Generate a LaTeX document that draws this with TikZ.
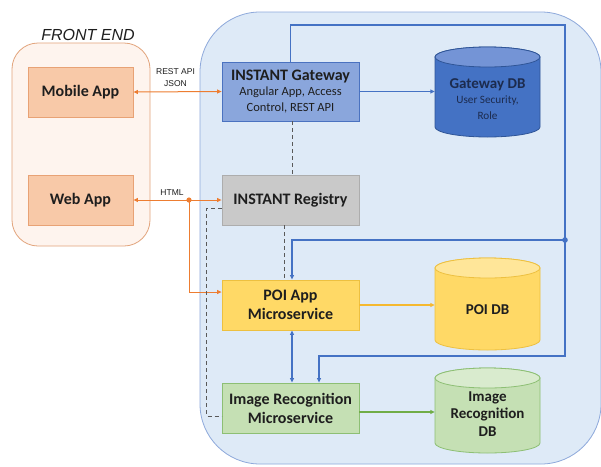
\documentclass[tikz,border=0pt]{standalone}
\usepackage{fontspec}
\setmainfont{Carlito}
\newfontfamily\arialfont{Liberation Sans}
\usetikzlibrary{arrows.meta}

\definecolor{feFill}{HTML}{FEF4EE}
\definecolor{feLine}{HTML}{E2A47C}
\definecolor{appFill}{HTML}{F8C9A8}
\definecolor{appLine}{HTML}{E8A275}
\definecolor{orangeLn}{HTML}{ED7D31}
\definecolor{beFill}{HTML}{DEEAF7}
\definecolor{beLine}{HTML}{8EA9DB}
\definecolor{gwFill}{HTML}{8AA6DC}
\definecolor{gwLine}{HTML}{4A72C0}
\definecolor{gdbFill}{HTML}{4472C4}
\definecolor{gdbTop}{HTML}{7494D6}
\definecolor{gdbLine}{HTML}{2F5597}
\definecolor{gdbText}{HTML}{1C2B4E}
\definecolor{blueLn}{HTML}{4472C4}
\definecolor{regFill}{HTML}{C9C9C9}
\definecolor{regLine}{HTML}{ADADAD}
\definecolor{poiFill}{HTML}{FFD966}
\definecolor{poiTop}{HTML}{FFE699}
\definecolor{poiLine}{HTML}{EDC040}
\definecolor{goldLn}{HTML}{F5B930}
\definecolor{imgFill}{HTML}{C5E0B4}
\definecolor{imgTop}{HTML}{D9EBCE}
\definecolor{imgLine}{HTML}{8DBF74}
\definecolor{greenLn}{HTML}{70AD47}
\definecolor{txt}{HTML}{1E1E1E}
\definecolor{dashLn}{HTML}{595959}

% database cylinder: centre x, top y, bottom y, body fill, top fill, border
\newcommand{\dbcylinder}[6]{%
  \filldraw[fill=#4,draw=#6,line width=0.8pt]
    ({#1-52.5},{#2+10}) -- ({#1-52.5},{#3-10})
    arc[start angle=180,end angle=360,x radius=52.5pt,y radius=10pt]
    -- ({#1+52.5},{#2+10})
    arc[start angle=0,end angle=180,x radius=52.5pt,y radius=10pt] -- cycle;
  \filldraw[fill=#5,draw=#6,line width=0.8pt]
    (#1,{#2+10}) ellipse[x radius=52.5pt,y radius=10pt];
}
\newcommand{\titlefont}{\bfseries\fontsize{16}{16}\selectfont}
\newcommand{\dbtitlefont}{\bfseries\fontsize{15}{15}\selectfont}

\begin{document}
\begin{tikzpicture}[x=1pt,y=-1pt,
  box/.style={draw,line width=0.8pt,inner sep=0pt,align=center,text=txt,
    font=\bfseries\fontsize{16}{19}\selectfont},
  appbox/.style={box,fill=appFill,draw=appLine,minimum width=105pt,minimum height=50pt},
  svcbox/.style={box,minimum width=137pt,minimum height=50pt},
  dbtext/.style={inner sep=0pt,align=center,minimum width=105pt,text=txt,
    font=\bfseries\fontsize{15}{17.5}\selectfont},
  tip/.style={-{Triangle[length=4.5pt,width=4pt]}},
  tips/.style={{Triangle[length=4.5pt,width=4pt]}-{Triangle[length=4.5pt,width=4pt]}},
  orangeconn/.style={draw=orangeLn,line width=1pt},
  blueconn/.style={draw=blueLn,line width=1.1pt},
  dashconn/.style={draw=dashLn,line width=0.9pt,dash pattern=on 4pt off 3pt},
  lbl/.style={inner sep=0pt,font=\arialfont\fontsize{8.5}{9}\selectfont,text=txt}
]
\useasboundingbox[fill=white] (0,0) rectangle (601,466);

% front end and back end areas
\filldraw[fill=feFill,draw=feLine,line width=0.8pt,rounded corners=26pt]
  (12,43) rectangle (150,246);
\node[inner sep=0pt,font=\arialfont\itshape\fontsize{16}{18}\selectfont,text=txt]
  (fetitle) at (88,35) {FRONT END};
\filldraw[fill=beFill,draw=beLine,line width=0.8pt,rounded corners=60pt]
  (200,12) rectangle (601,464);

% databases
\dbcylinder{487.5}{47}{137}{gdbFill}{gdbTop}{gdbLine}
\dbcylinder{487.5}{258}{350}{poiFill}{poiTop}{poiLine}
\dbcylinder{487.5}{368}{453}{imgFill}{imgTop}{imgLine}

% front end apps
\node[appbox] (mob) at (80.5,92) {Mobile App};
\node[appbox] (web) at (80.5,200) {Web App};

% services
\node[svcbox,fill=gwFill,draw=gwLine,minimum height=59pt,
  font=\mdseries\fontsize{12.5}{15.5}\selectfont] (gw) at (290.5,91.5)
  {{\titlefont INSTANT Gateway}\\Angular App, Access\\Control, REST API};
\node[svcbox,fill=regFill,draw=regLine] (reg) at (290.5,200) {INSTANT Registry};
\node[svcbox,fill=poiFill,draw=poiLine] (poi) at (290.5,305) {POI App\\Microservice};
\node[svcbox,fill=imgFill,draw=imgLine] (img) at (290.5,408) {Image Recognition\\Microservice};

% database labels
\node[dbtext,text=gdbText,font=\mdseries\fontsize{11.2}{15.5}\selectfont] (gdb) at (487.5,99)
  {{\dbtitlefont Gateway DB}\\User Security,\\Role};
\node[dbtext] (pdb) at (487.5,310) {POI DB};
\node[dbtext] (idb) at (487.5,414) {Image\\Recognition\\DB};

% front end connections
\draw[orangeconn,tips] (mob.east) -- (gw.west);
\node[lbl] (restlbl) at (175.5,72) {REST API};
\node[lbl] (jsonlbl) at (175.5,84) {JSON};
\draw[orangeconn,tips] (web.east) -- (reg.west);
\node[lbl] (htmllbl) at (172,192.5) {HTML};
\coordinate (hsplit) at (189,200);
\fill[orangeLn] (hsplit) circle[radius=2.6pt];
\draw[orangeconn,tip] (hsplit) |- ([yshift=13pt]poi.west);

% service to database connections
\draw[blueconn,tip] (gw.east) -- (gw.east -| gdb.west);
\draw[draw=goldLn,line width=1.1pt,tip] (poi.east) -- (poi.east -| pdb.west);
\draw[draw=greenLn,line width=1.1pt,tip] ([yshift=-4pt]img.east) -- ([yshift=-4pt]img.east -| idb.west);

% gateway routing
\coordinate (gtop) at (565,25);
\coordinate (gjoin) at (565,240);
\coordinate (gturn) at (565,356);
\draw[blueconn] (gw.north) |- (gtop) -- (gjoin);
\fill[blueLn] (gjoin) circle[radius=2.8pt];
\draw[blueconn,tip] (gjoin) -| ([xshift=1.5pt]poi.north);
\draw[blueconn,tip] (gjoin) -- (gturn) -| ([xshift=28.5pt]img.north);
\draw[blueconn,tips] ([xshift=1.5pt]poi.south) -- ([xshift=1.5pt]img.north);

% registry links
\draw[dashconn] ([xshift=1.5pt]gw.south) -- ([xshift=1.5pt]reg.north);
\draw[dashconn] ([xshift=-6.5pt]reg.south) -- ([xshift=-6.5pt]poi.north);
\draw[dashconn] ([yshift=-8pt]reg.west) -- ++(-15,0) |- ([yshift=-8pt]img.west);
\end{tikzpicture}
\end{document}
